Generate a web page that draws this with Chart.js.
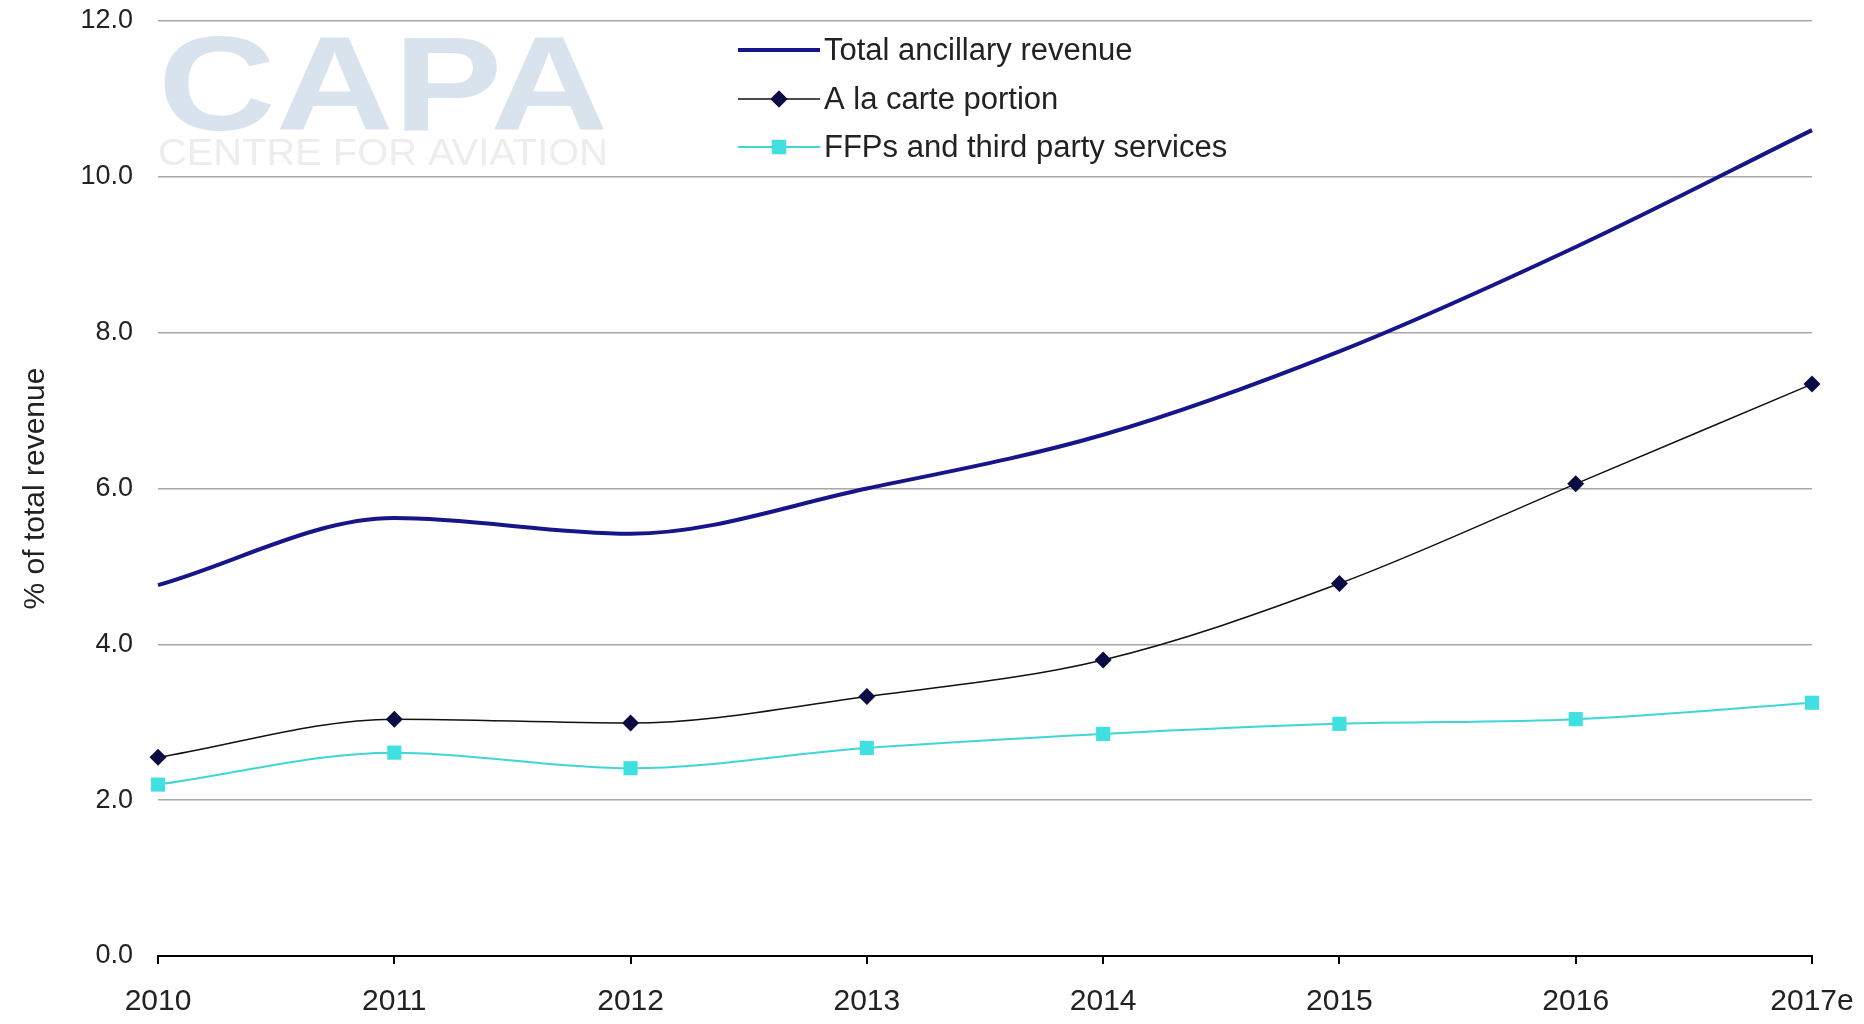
<!DOCTYPE html>
<html>
<head>
<meta charset="utf-8">
<script src="https://cdn.jsdelivr.net/npm/chart.js@4.4.1/dist/chart.umd.min.js"></script>
<style>
  html, body { margin: 0; padding: 0; background: #fff; }
</style>
</head>
<body>
<canvas id="chart" width="1864" height="1024"></canvas>
<script>
const years = ["2010", "2011", "2012", "2013", "2014", "2015", "2016", "2017e"];
const totalAncillary = [4.76, 5.62, 5.42, 6.0, 6.69, 7.76, 9.10, 10.60];
const aLaCarte = [2.55, 3.04, 2.99, 3.33, 3.80, 4.78, 6.06, 7.34];
const ffpThirdParty = [2.20, 2.61, 2.41, 2.67, 2.85, 2.98, 3.04, 3.25];
const yTicks = [0, 2, 4, 6, 8, 10, 12];

const font = "'Liberation Sans', Arial, sans-serif";

// faint CAPA logo behind the lines
const watermark = {
  id: "watermark",
  beforeDatasetsDraw(chart) {
    const c = chart.ctx;
    const left = chart.chartArea.left;
    c.save();
    c.font = "bold 134px " + font;
    let w = c.measureText("CAPA").width;
    c.translate(left, 130);
    c.scale(450 / w, 1);
    c.fillStyle = "#d9e3ed";
    c.fillText("CAPA", 0, 0);
    c.restore();

    c.save();
    c.font = "36px " + font;
    w = c.measureText("CENTRE FOR AVIATION").width;
    c.translate(left, 165);
    c.scale(450 / w, 1);
    c.fillStyle = "#ededed";
    c.fillText("CENTRE FOR AVIATION", 0, 0);
    c.restore();
  }
};

// legend drawn inside the plot, line sample with marker in the middle
const innerLegend = {
  id: "innerLegend",
  afterDraw(chart) {
    const c = chart.ctx;
    const x0 = 738, x1 = 820;
    const rows = [50, 99, 147];
    c.save();
    chart.data.datasets.forEach((ds, i) => {
      const y = rows[i];
      c.strokeStyle = ds.borderColor;
      c.lineWidth = ds.borderWidth;
      c.beginPath();
      c.moveTo(x0, y);
      c.lineTo(x1, y);
      c.stroke();
      if (ds.pointRadius > 0) {
        Chart.helpers.drawPoint(c, {
          pointStyle: ds.pointStyle,
          radius: ds.pointRadius,
          borderWidth: 0,
          rotation: 0
        }, (x0 + x1) / 2, y);
        c.fillStyle = ds.pointBackgroundColor;
        c.fill();
      }
      c.fillStyle = "#222";
      c.font = "31px " + font;
      c.textBaseline = "middle";
      c.fillText(ds.label, x1 + 4, y + 1);
    });
    c.restore();
  }
};

new Chart(document.getElementById("chart").getContext("2d"), {
  type: "line",
  data: {
    labels: years,
    datasets: [
      {
        label: "Total ancillary revenue",
        data: totalAncillary,
        borderColor: "#16168a",
        borderWidth: 4,
        pointRadius: 0,
        cubicInterpolationMode: "monotone"
      },
      {
        label: "A la carte portion",
        data: aLaCarte,
        borderColor: "#111",
        borderWidth: 1.5,
        pointStyle: "rectRot",
        pointRadius: 8.5,
        pointBackgroundColor: "#0c0c44",
        pointBorderWidth: 0,
        cubicInterpolationMode: "monotone"
      },
      {
        label: "FFPs and third party services",
        data: ffpThirdParty,
        borderColor: "#3fd6d6",
        borderWidth: 2,
        pointStyle: "rect",
        pointRadius: 10,
        pointBackgroundColor: "#40e0e0",
        pointBorderWidth: 0,
        cubicInterpolationMode: "monotone"
      }
    ]
  },
  options: {
    responsive: false,
    animation: false,
    layout: { padding: { top: 21, right: 52, bottom: 0, left: 0 } },
    plugins: {
      legend: { display: false },
      tooltip: { enabled: false }
    },
    scales: {
      x: {
        offset: false,
        border: { display: true, color: "#000", width: 2 },
        grid: { drawOnChartArea: false, drawTicks: true, tickLength: 8, color: "#000", lineWidth: 2 },
        ticks: {
          color: "#222",
          font: { family: font, size: 30, lineHeight: 2.27 },
          padding: 4,
          maxRotation: 0
        },
        afterFit(scale) { scale.height = 68; }
      },
      y: {
        min: 0,
        max: 12,
        afterBuildTicks(scale) { scale.ticks = yTicks.map(v => ({ value: v })); },
        border: { display: false },
        grid: { color: "#a8a8a8", lineWidth: 1.5, drawTicks: true, tickLength: 25, tickColor: "rgba(0,0,0,0)" },
        ticks: {
          color: "#222",
          font: { family: font, size: 27 },
          padding: 0,
          callback: v => v.toFixed(1)
        },
        title: {
          display: true,
          text: "% of total revenue",
          color: "#222",
          font: { family: font, size: 30 },
          padding: { top: 18, bottom: 0 }
        },
        afterFit(scale) { scale.width = 158; }
      }
    }
  },
  plugins: [watermark, innerLegend]
});
</script>
</body>
</html>
